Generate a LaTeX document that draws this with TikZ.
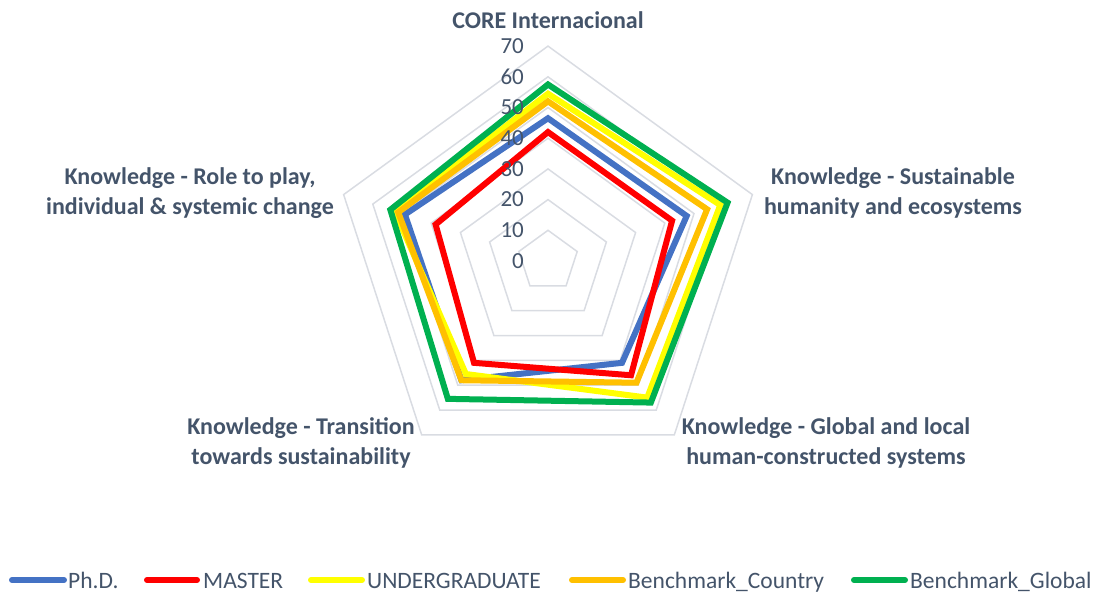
\documentclass[tikz,border=0pt]{standalone}
\usepackage{fontspec}
\setmainfont{Carlito}
\usepackage{xcolor}
\usetikzlibrary{positioning}
\definecolor{txt}{HTML}{44546A}
\definecolor{gridc}{HTML}{D9DCE2}
\definecolor{phdc}{HTML}{4472C4}
\definecolor{masc}{HTML}{FF0000}
\definecolor{undc}{HTML}{FFFF00}
\definecolor{bcoc}{HTML}{FFC000}
\definecolor{bglc}{HTML}{00B050}
\tikzset{
    axlabel/.style={align=center, text=txt, inner sep=0pt, font=\fontsize{24}{29.5}\selectfont\bfseries},
    ticklabel/.style={anchor=east, text=txt, inner sep=0pt, font=\fontsize{23}{25}\selectfont},
    ring/.style={draw=gridc, line width=1.5pt},
    series/.style={line width=6pt, preaction={draw=black, opacity=0.15, transform canvas={shift={(1.5pt,-2pt)}}}},
    legline/.style={line width=6pt, line cap=round},
    legtext/.style={anchor=base west, text=txt, inner sep=0pt, font=\fontsize{23.5}{26}\selectfont}
}

\begin{document}
\begin{tikzpicture}[x=1pt, y=-1pt]
    \useasboundingbox (0,0) rectangle (1099,592);

    \begin{scope}[shift={(548,261)}, x=3.07pt, y=3.07pt]
        \foreach \r in {10,20,...,70}
            \draw[ring] (90:\r) -- (18:\r) -- (-54:\r) -- (-126:\r) -- (162:\r) -- cycle;

        \draw[series, phdc] (90:46.5) -- (18:47.5) -- (-54:41) -- (-126:48) -- (162:49) -- cycle;
        \draw[series, masc] (90:42) -- (18:42.5) -- (-54:46) -- (-126:41) -- (162:38.5) -- cycle;
        \draw[series, undc] (90:54.5) -- (18:59) -- (-54:55) -- (-126:45.5) -- (162:52.5) -- cycle;
        \draw[series, bcoc] (90:52) -- (18:54.5) -- (-54:49) -- (-126:48) -- (162:51.3) -- cycle;
        \draw[series, bglc] (90:57.5) -- (18:61.5) -- (-54:57) -- (-126:55.5) -- (162:54) -- cycle;

        \foreach \r in {0,10,...,70}
            \node[ticklabel] at (-7.8,\r) {\r};
    \end{scope}

    \node[axlabel] at (548,20) (core) {CORE Internacional};
    \node[axlabel] at (893,193) (sust) {Knowledge - Sustainable\\humanity and ecosystems};
    \node[axlabel] at (826,443) (glob) {Knowledge - Global and local\\human-constructed systems};
    \node[axlabel] at (301,443) (trans) {Knowledge - Transition\\towards sustainability};
    \node[axlabel] at (190,193) (role) {Knowledge - Role to play,\\individual \& systemic change};

    \coordinate (l1a) at (12,580);
    \coordinate (l1b) at (64,580);
    \draw[legline, phdc] (l1a) -- (l1b);
    \node[legtext] at (68,588) (l1) {Ph.D.};

    \coordinate (l2a) at (147,580);
    \coordinate (l2b) at (197,580);
    \draw[legline, masc] (l2a) -- (l2b);
    \node[legtext] at (203,588) (l2) {MASTER};

    \coordinate (l3a) at (311,580);
    \coordinate (l3b) at (362,580);
    \draw[legline, undc] (l3a) -- (l3b);
    \node[legtext] at (367,588) (l3) {UNDERGRADUATE};

    \coordinate (l4a) at (572,580);
    \coordinate (l4b) at (623,580);
    \draw[legline, bcoc] (l4a) -- (l4b);
    \node[legtext] at (628,588) (l4) {Benchmark\_Country};

    \coordinate (l5a) at (854,580);
    \coordinate (l5b) at (905,580);
    \draw[legline, bglc] (l5a) -- (l5b);
    \node[legtext] at (910,588) (l5) {Benchmark\_Global};
\end{tikzpicture}
\end{document}
